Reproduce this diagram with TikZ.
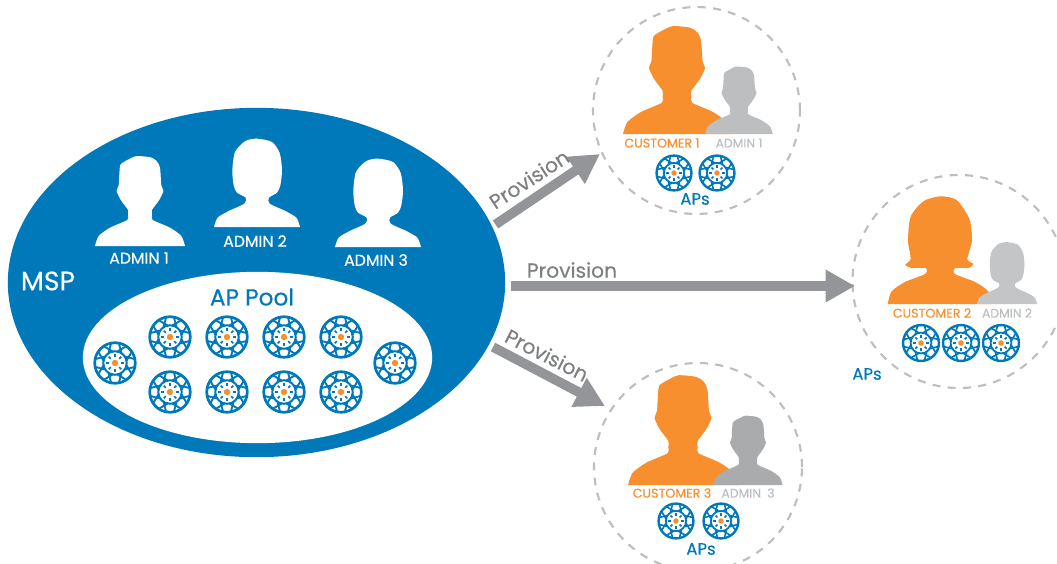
\documentclass[tikz,border=0pt]{standalone}
\usepackage{fontspec}
\setmainfont{Poppins}[FakeBold=0.25]
\usetikzlibrary{arrows.meta,shapes.geometric}
\definecolor{mspblue}{HTML}{0079BA}
\definecolor{custorange}{HTML}{F78F2E}
\definecolor{admgray}{HTML}{BCBEC0}
\definecolor{arrgray}{HTML}{939598}
\newcommand{\manshape}[4]{\begin{scope}[shift={(#1,#2)},scale=#3/3]
\fill[#4] (-135,0) -- plot[smooth,tension=.4] coordinates {(-135,0)(-124,-30)(-90,-55)(-38,-78)(-36,-92)(-36,-108)(-52,-130)(-60,-142)(-70,-165)(-64,-182)(-62,-215)(-58,-245)(-30,-262)(-10,-270)(32,-266)(50,-255)(60,-235)(64,-182)(70,-165)(60,-142)(52,-130)(36,-108)(36,-92)(38,-78)(90,-55)(124,-30)(135,0)} -- cycle;
\end{scope}}
\newcommand{\womanshape}[4]{\begin{scope}[shift={(#1,#2)},scale=#3/3]
\fill[#4] (-129,0) -- plot[smooth,tension=.45] coordinates {(-129,0)(-118,-28)(-85,-48)(-38,-70)(-34,-88)(-60,-103)(-70,-125)(-74,-170)(-66,-225)(-35,-258)(0,-265)(45,-255)(68,-222)(75,-170)(70,-125)(60,-103)(36,-88)(38,-70)(85,-48)(118,-28)(129,0)} -- cycle;
\end{scope}}
\newcommand{\flipshape}[4]{\begin{scope}[shift={(#1,#2)},scale=#3/3]
\fill[#4] (-157,0) -- plot[smooth,tension=.45] coordinates {(-157,0)(-145,-38)(-105,-66)(-45,-90)(-42,-108)(-85,-108)(-104,-118)(-88,-135)(-96,-190)(-88,-262)(-50,-308)(0,-323)(50,-312)(88,-255)(96,-190)(82,-135)(100,-120)(85,-108)(45,-108)(45,-90)(105,-66)(145,-38)(157,0)} -- cycle;
\end{scope}}
\newcommand{\apicon}[4]{\begin{scope}[shift={(#2,#3)},scale=#4/21,draw=mspblue]
\node[circle,minimum size=#4*1.5pt,inner sep=0pt,outer sep=0pt] (#1) at (0,0) {};
\draw[line width=#4*.095pt] (0,0) circle (19.8);
\draw[line width=#4*.07pt] (0,0) circle (11.5);
\foreach \a in {22.5,67.5,...,337.5}{
\draw[line width=#4*.065pt] ({\a-11}:11.5) -- ({\a+11}:19.5);
\draw[line width=#4*.065pt] ({\a+11}:11.5) -- ({\a-11}:19.5);
}
\foreach \a in {0,45,...,315}{
\draw[line width=#4*.06pt] (\a:5.8) -- (\a:8.8);
}
\fill[custorange] (0,0) circle (3.1);
\end{scope}}
\tikzset{
 ring/.style={circle,draw=admgray,line width=1.6pt,dash pattern=on 6pt off 5.5pt,inner sep=0pt,outer sep=0pt},
 arr/.style={draw=arrgray,line width=7.2pt,-{Triangle[length=22pt,width=23pt]}},
 whitelbl/.style={text=white,font=\fontsize{11.8}{13}\selectfont},
 orangelbl/.style={text=custorange,font=\fontsize{9.5}{11}\selectfont},
 graylbl/.style={text=admgray,font=\fontsize{9.3}{11}\selectfont},
 aplbl/.style={text=mspblue,font=\fontsize{12.4}{14}\selectfont},
 provlbl/.style={text=arrgray!85!black,font=\fontsize{15.2}{17}\selectfont},
}
\begin{document}
\begin{tikzpicture}[x=.75pt,y=-.75pt]
\clip (0,0) rectangle (1057,564);
\node[ellipse,fill=mspblue,minimum width=373pt,minimum height=262pt,inner sep=0pt,outer sep=0pt] (msp) at (256.5,282.5) {};
\node[ellipse,fill=white,minimum width=262pt,minimum height=128.5pt,inner sep=0pt,outer sep=0pt] (pool) at (257.5,357.5) {};
\node[ring,minimum size=155.2pt] (c1) at (696.5,110.5) {};
\node[ring,minimum size=159.8pt] (c2) at (959,281.5) {};
\node[ring,minimum size=156pt] (c3) at (698,467) {};
% people
\manshape{140}{246}{1}{white}
\womanshape{257}{227}{1}{white}
\womanshape{378}{247}{1}{white}
\manshape{677}{134}{1.2}{custorange}
\manshape{739}{134}{.75}{admgray}
\flipshape{940}{304}{1}{custorange}
\womanshape{1007}{304}{.7}{admgray!90!white}
\manshape{683}{485}{1.22}{custorange}
\manshape{748}{485}{.77}{admgray!90!black}
% labels
\node[whitelbl] (l1) at (139,258) {ADMIN 1};
\node[whitelbl] (l2) at (255,241) {ADMIN 2};
\node[whitelbl] (l3) at (376,260) {ADMIN 3};
\node[text=white,font=\fontsize{20}{22}\selectfont] (mspt) at (48,281) {MSP};
\node[text=mspblue,font=\fontsize{17.4}{19}\selectfont] (poolt) at (252,297) {AP Pool};
\node[orangelbl] (cu1) at (662,143) {CUSTOMER 1};
\node[graylbl] (ad1) at (739,143) {ADMIN 1};
\node[orangelbl] (cu2) at (932,313) {CUSTOMER 2};
\node[graylbl] (ad2) at (1007,313) {ADMIN 2};
\node[orangelbl] (cu3) at (672,493) {CUSTOMER 3};
\node[graylbl] (ad3) at (748,493) {ADMIN\hspace{.5em}3};
\node[aplbl] (ap1t) at (695,199) {APs};
\node[aplbl] (ap2t) at (867,374) {APs};
\node[aplbl] (ap3t) at (701,549) {APs};
% AP icons
\apicon{p1}{115}{363}{21.5}
\apicon{p2}{170}{337}{21.5}
\apicon{p3}{227}{337}{21.5}
\apicon{p4}{284}{337}{21.5}
\apicon{p5}{341}{337}{21.5}
\apicon{p6}{170}{392}{21.5}
\apicon{p7}{227}{392}{21.5}
\apicon{p8}{284}{392}{21.5}
\apicon{p9}{341}{392}{21.5}
\apicon{p10}{395}{363}{21.5}
\apicon{a1}{674}{173}{18.5}
\apicon{a2}{717}{173}{18.5}
\apicon{b1}{921}{343}{19}
\apicon{b2}{961}{343}{19}
\apicon{b3}{1001}{343}{19}
\apicon{d1}{676}{521}{18.5}
\apicon{d2}{721}{521}{18.5}
% connectors
\coordinate (s1) at (495.5,224.5);
\coordinate (t1) at (600,154);
\coordinate (s2) at (511,286);
\coordinate (t2) at (855,286);
\coordinate (s3) at (493,347);
\coordinate (t3) at (605,406);
\draw[arr] (s1) -- (t1);
\draw[arr] (s2) -- (t2);
\draw[arr] (s3) -- (t3);
\node[provlbl,rotate=33] (p1t) at (529,179) {Provision};
\node[provlbl] (p2t) at (572,270) {Provision};
\node[provlbl,rotate=-27] (p3t) at (547,355) {Provision};
\end{tikzpicture}
\end{document}
